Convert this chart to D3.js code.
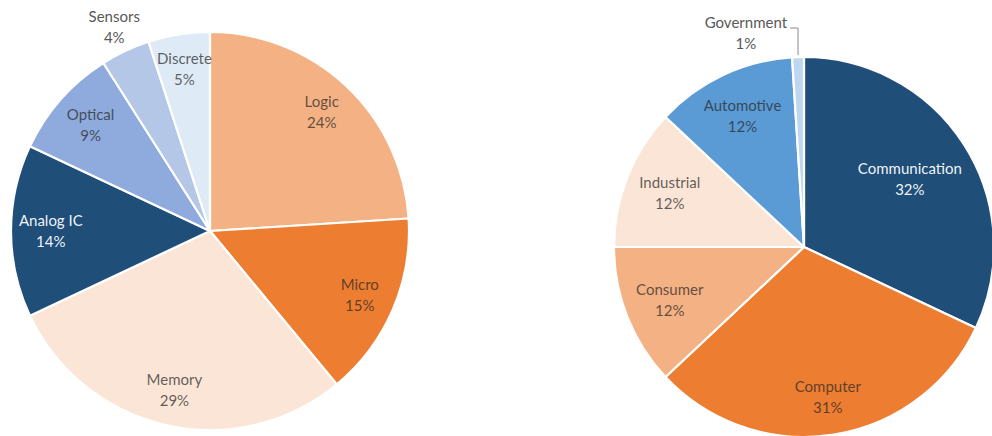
<!DOCTYPE html>
<html>
<head>
<meta charset="utf-8">
<script src="https://cdn.jsdelivr.net/npm/d3@7/dist/d3.min.js"></script>
<style>
  html, body { margin: 0; padding: 0; background: #ffffff; }
  svg { display: block; }
  text { font-family: Lato, "Open Sans", sans-serif; }
</style>
</head>
<body>
<svg id="chart" width="992" height="436"></svg>
<script>
// ---- data ----
const deviceCategories = ["Logic", "Micro", "Memory", "Analog IC", "Optical", "Sensors", "Discrete"];
const deviceShares     = [24, 15, 29, 14, 9, 4, 5];
const deviceColors     = ["#F4B183", "#ED7D31", "#FBE5D6", "#1F4E79", "#8FAADC", "#B4C7E7", "#DEEBF7"];

const marketCategories = ["Communication", "Computer", "Consumer", "Industrial", "Automotive", "Government"];
const marketShares     = [32, 31, 12, 12, 12, 1];
const marketColors     = ["#1F4E79", "#ED7D31", "#F4B183", "#FBE5D6", "#5B9BD5", "#BDD7EE"];

// ---- drawing ----
const svg = d3.select("#chart");
const FS = 15, LH = 21;

function textWidth(str) {
  const t = svg.append("text").attr("font-size", FS).text(str);
  const w = t.node().getComputedTextLength();
  t.remove();
  return w;
}

function drawPie(cats, vals, colors, cx, cy, r) {
  const g = svg.append("g").attr("transform", `translate(${cx},${cy})`);
  const data = cats.map((c, i) => ({ name: c, value: vals[i], color: colors[i] }));
  const pie = d3.pie().value(d => d.value).sort(null);
  const arcs = pie(data);
  const arc = d3.arc().innerRadius(0).outerRadius(r);
  const total = d3.sum(vals);

  g.selectAll("path.slice").data(arcs).join("path")
    .attr("class", "slice")
    .attr("d", arc)
    .attr("fill", d => d.data.color)
    .attr("stroke", "#ffffff")
    .attr("stroke-width", 2.2)
    .attr("stroke-linejoin", "round");

  const lum = c => { const h = d3.hsl(c); return h.l; };

  arcs.forEach(a => {
    const pct = a.data.value / total * 100;
    const mid = (a.startAngle + a.endAngle) / 2;
    const l1 = a.data.name, l2 = Math.round(pct) + "%";
    const w = Math.max(textWidth(l1), textWidth(l2));
    const h = LH * 2;
    let x, y, fill, op = 1, anchorX;
    const dark = lum(a.data.color) < 0.35;

    if (pct < 2) {
      // label with leader line above the slice
      const ex = Math.sin(mid) * r, ey = -Math.cos(mid) * r;
      const elbowY = -r - 29;
      const elbowX = ex;
      g.append("polyline")
        .attr("points", [[ex, ey - 2], [elbowX, elbowY], [elbowX - 8, elbowY]].map(p => p.join(",")).join(" "))
        .attr("fill", "none").attr("stroke", "#8c8c8c").attr("stroke-width", 1);
      x = elbowX - 11 - w / 2;
      y = elbowY + 5;
      fill = "#595959";
    } else if (pct < 4.5) {
      const rr = r * 1.13;
      x = Math.sin(mid) * rr; y = -Math.cos(mid) * rr;
      fill = "#595959";
    } else {
      let k = 0.82;
      const fits = (px, py) => {
        const corners = [[px - w / 2, py - h / 2], [px + w / 2, py - h / 2], [px - w / 2, py + h / 2], [px + w / 2, py + h / 2]];
        return corners.every(([qx, qy]) => Math.hypot(qx, qy) < r - 6);
      };
      while (k > 0.4) {
        const px = Math.sin(mid) * r * k, py = -Math.cos(mid) * r * k;
        if (fits(px, py)) break;
        k -= 0.02;
      }
      x = Math.sin(mid) * r * k; y = -Math.cos(mid) * r * k;
      if (dark) { fill = "#ffffff"; op = 0.95; }
      else { fill = "#262626"; op = 0.72; }
    }

    const t = g.append("text")
      .attr("text-anchor", "middle")
      .attr("font-size", FS)
      .attr("fill", fill)
      .attr("fill-opacity", op);
    t.append("tspan").attr("x", x).attr("y", y - LH / 2 + 5).text(l1);
    t.append("tspan").attr("x", x).attr("y", y + LH / 2 + 5).text(l2);
  });
}

drawPie(deviceCategories, deviceShares, deviceColors, 210, 231, 199);
drawPie(marketCategories, marketShares, marketColors, 804, 247, 190);
</script>
</body>
</html>
